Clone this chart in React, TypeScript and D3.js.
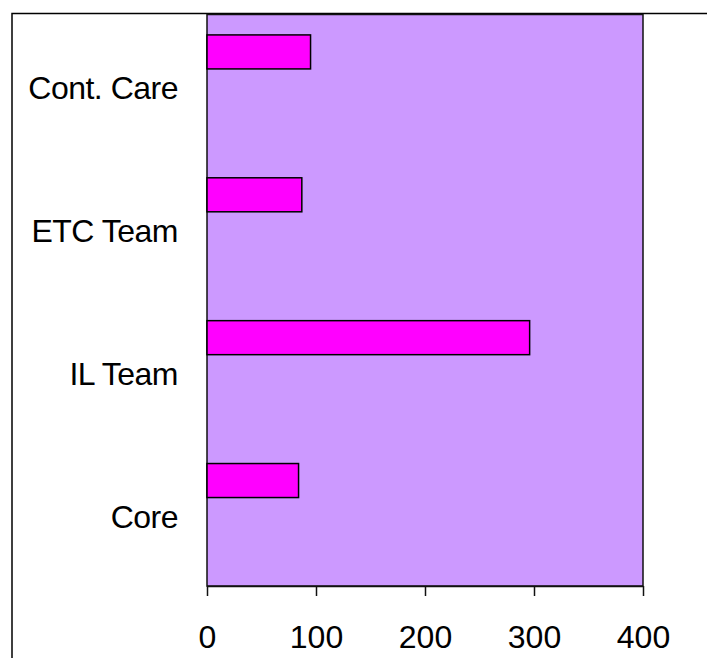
import React, { useEffect, useRef } from 'react';
import * as d3 from 'd3';

// categories bottom -> top, as drawn on the value axis
const categories = ['Core', 'IL Team', 'ETC Team', 'Cont. Care'];
const values = [84, 296, 87, 95];
const xTicks = [0, 100, 200, 300, 400];

const App = () => {
    const svgRef = useRef<SVGSVGElement>(null);

    useEffect(() => {
        const svg = d3.select(svgRef.current);
        svg.selectAll('*').remove();

        const width = 707;
        const height = 658;
        const plot = { left: 207, right: 643, top: 14.5, bottom: 586 };
        const font = '"Liberation Sans", Arial, sans-serif';

        // outer chart frame (runs past the window)
        svg.append('rect')
            .attr('x', 12).attr('y', 13.5)
            .attr('width', 900).attr('height', 900)
            .attr('fill', 'white')
            .attr('stroke', 'black').attr('stroke-width', 1.5);

        const x = d3.scaleLinear().domain([0, 400]).range([plot.left, plot.right]);
        const y = d3.scaleBand().domain(categories).range([plot.bottom, plot.top]).padding(0);
        // three series slots per category, only the first holds data
        const slot = d3.scaleBand().domain(['a', 'b', 'c'])
            .range([0, y.bandwidth()]).paddingInner(0).paddingOuter(0.6);

        svg.append('rect')
            .attr('x', plot.left).attr('y', plot.top)
            .attr('width', plot.right - plot.left).attr('height', plot.bottom - plot.top)
            .attr('fill', '#CC99FF')
            .attr('stroke', '#111').attr('stroke-width', 1.5);

        svg.selectAll('.bar')
            .data(categories)
            .enter()
            .append('rect')
            .attr('class', 'bar')
            .attr('x', x(0))
            .attr('y', d => (y(d) as number) + (slot('a') as number))
            .attr('width', (d, i) => x(values[i]) - x(0))
            .attr('height', slot.bandwidth())
            .attr('fill', '#FF00FF')
            .attr('stroke', 'black').attr('stroke-width', 1.5);

        // x axis
        const xAxis = svg.append('g')
            .attr('transform', `translate(0, ${plot.bottom})`)
            .call(d3.axisBottom(x).tickValues(xTicks).tickSize(10).tickPadding(29).tickSizeOuter(0));
        xAxis.select('.domain').attr('stroke', '#111').attr('stroke-width', 1.5);
        xAxis.selectAll('line').attr('stroke', '#111').attr('stroke-width', 1.5);
        xAxis.selectAll('text')
            .attr('font-family', font).attr('font-size', 32).attr('fill', 'black');

        // category labels
        svg.selectAll('.cat')
            .data(categories)
            .enter()
            .append('text')
            .attr('class', 'cat')
            .attr('x', 178)
            .attr('y', d => (y(d) as number) + y.bandwidth() / 2)
            .attr('dy', '0.42em')
            .attr('text-anchor', 'end')
            .attr('font-family', font)
            .attr('font-size', 32)
            .attr('letter-spacing', -0.5)
            .text(d => d);

        svg.attr('width', width).attr('height', height);
    }, []);

    return (
        <svg ref={svgRef} width={707} height={658}
            style={{ position: 'absolute', left: 0, top: 0, display: 'block' }}></svg>
    );
};

export default App;
